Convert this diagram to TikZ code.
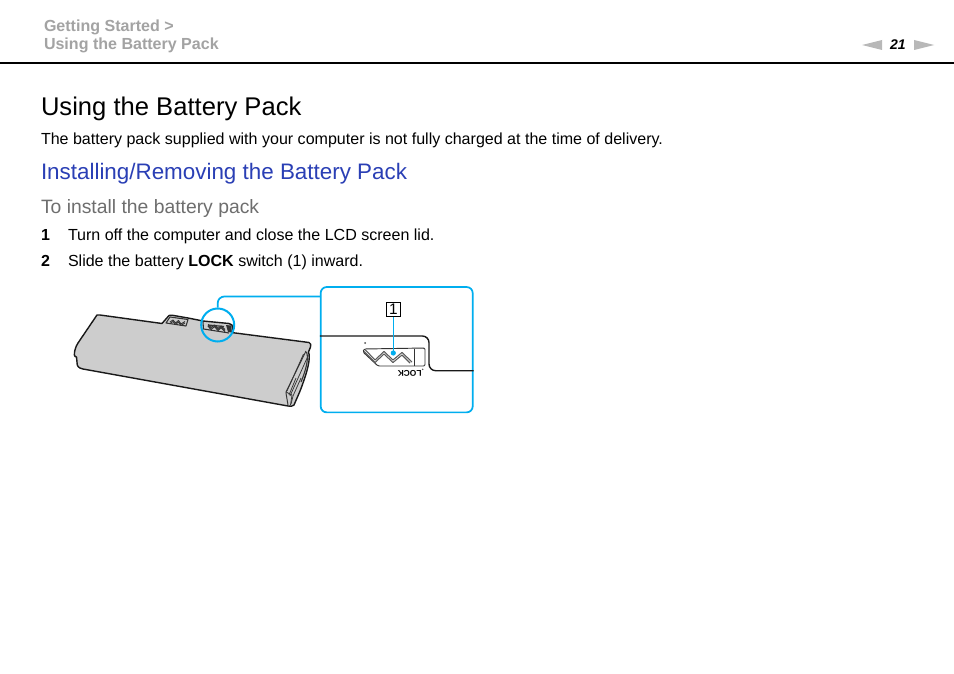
\documentclass[tikz,border=0pt]{standalone}
\usepackage{fontspec}
\setmainfont{Liberation Sans}
\definecolor{hgray}{HTML}{A3A3A3}
\definecolor{subgray}{HTML}{6E6E6E}
\definecolor{headblue}{HTML}{2A3FB5}
\definecolor{callout}{HTML}{00AEEF}
\definecolor{batgray}{HTML}{CDCDCD}
\newcommand{\fs}[1]{\fontsize{#1}{#1}\selectfont}
\tikzset{
  txt/.style={anchor=base west,inner sep=0pt,outer sep=0pt,text=black},
  hdr/.style={txt,text=hgray,font=\fs{12.03}\bfseries},
  body/.style={txt,font=\fs{12.03}},
  bat/.style={draw=black!90,line width=1.05pt,line join=round},
  thin/.style={draw=black!80,line width=0.55pt,line join=round},
  call/.style={draw=callout,line width=1.3pt},
  tri/.style={fill=black!28,draw=none}
}
\begin{document}
\begin{tikzpicture}[x=0.75pt,y=-0.75pt]
\useasboundingbox (0,0) rectangle (954,674);
\fill[white] (0,0) rectangle (954,674);
% header
\node[hdr] (h1) at (44,31.5) {Getting Started >};
\node[hdr] (h2) at (44,49.5) {Using the Battery Pack};
\fill[tri] (862,45) -- (882,40) -- (882,50) -- cycle;
\fill[tri] (934,45) -- (914,40) -- (914,50) -- cycle;
\node[txt,font=\fs{10.5}\bfseries\itshape] (pg) at (890,50) {21};
\draw[black,line width=1.5pt] (0,63) -- (954,63);
% text
\node[txt,font=\fs{19.2}] (title) at (41,115.5) {Using the Battery Pack};
\node[body] (intro) at (41,144) {The battery pack supplied with your computer is not fully charged at the time of delivery.};
\node[txt,text=headblue,font=\fs{16.8}] (sec) at (41,180) {Installing/Removing the Battery Pack};
\node[txt,text=subgray,font=\fs{14.5}] (sub) at (41,213) {To install the battery pack};
\node[body,font=\fs{12}\bfseries] (n1) at (41,240) {1};
\node[body] (s1) at (68,240) {Turn off the computer and close the LCD screen lid.};
\node[body,font=\fs{12}\bfseries] (n2) at (41,266) {2};
\node[body] (s2) at (68,266) {Slide the battery \textbf{LOCK} switch (1) inward.};
% battery
\filldraw[bat,fill=batgray]
 (97,315) .. controls (98,314.5) and (99,314.5) .. (100,315)
 -- (162,323.5) -- (169,315.5) .. controls (170,315) and (171,315) .. (172,315.2)
 -- (188,318) -- (203,321) -- (229,323.5) -- (232,325) -- (233,332.7) -- (309,342.5)
 .. controls (311,343) and (311,345) .. (310.5,347)
 -- (308.5,352) .. controls (311,358) and (307,372) .. (303,383)
 .. controls (300,392) and (296,400) .. (294,405)
 .. controls (293,406.5) and (290,406.5) .. (288,406)
 -- (83,369) .. controls (78,368) and (77,366) .. (77,362)
 -- (76.5,357) .. controls (74,357) and (74,354) .. (75,350)
 .. controls (76,346) and (77,345) .. (78,343)
 -- (97,315) -- cycle;
% notch tab 1
\draw[thin,line width=0.8pt] (166,323) -- (170,317) -- (188,319.5) -- (186,326) -- cycle;
\draw[thin,line width=0.7pt] (170,322) -- (173,320) -- (175.5,323) -- (178.5,320.5) -- (181,324) -- (185,321.5);
\draw[thin,line width=0.7pt] (170,323.5) -- (173,321.5) -- (175.5,324.5) -- (178.5,322) -- (181,325.5) -- (185,323);
% tab 2
\draw[thin,line width=0.8pt] (203,322) -- (203.5,329) -- (229,333);
\draw[thin,line width=0.9pt] (208,325) -- (224,326.5);
\draw[thin,line width=0.8pt] (208,326) -- (211,329.5) -- (214.5,326.5) -- (218,330.5) -- (221,327.5) -- (225,331.5);
\draw[thin,line width=0.8pt] (208,324.5) -- (211,327.5) -- (214.5,325) -- (218,328.5) -- (221,326) -- (225,329.5);
\fill[black!80] (226,325) -- (231,325.5) -- (232,332.5) -- (228,332) -- cycle;
% right end details
\draw[thin,line width=0.7pt] (306,351) -- (286,392) -- (286,393) -- (288,405);
\draw[thin] (303.5,354) -- (287,391);
\draw[thin] (308,356) -- (290,396);
\draw[thin] (301,378) -- (293,396) -- (291,404);
\draw[thin] (286,392) -- (292,395) -- (290.5,405);
\draw[thin] (296,378) -- (289,395);
\draw[thin,line width=0.8pt] (306.5,352) .. controls (309,358) and (306,370) .. (301,382);
% callout
\node[circle,call,line width=1.5pt,minimum size=33*0.75pt,inner sep=0pt,fill=none] (mag) at (217.7,325) {};
\coordinate (bend) at (217.7,296.5);
\node[call,line width=1.3pt,rounded corners=4.5pt,minimum width=114pt,minimum height=94pt,inner sep=0pt] (panel) at (396.7,349.7) {};
\draw[call,rounded corners=5pt] (mag.north) -- (bend) -- (panel.west |- bend);
% panel content
\draw[bat,rounded corners=5pt] (panel.west |- 0,336) -- (429,336) -- (429,370.7) -- (panel.east |- 0,370.7);
\draw[thin,line width=0.7pt,rounded corners=1pt] (364,349) -- (425,348) -- (425,366) -- (378,366) -- (363,352) -- cycle;
\draw[thin] (414,348.5) -- (414,366);
\draw[thin,line width=0.8pt,draw=black!65] (365,349.5) -- (375,360) -- (384,351.5) -- (393,360) -- (402,352.5) -- (412,362);
\draw[thin,line width=0.8pt,draw=black!65] (364,351.5) -- (375,362.5) -- (384,354) -- (393,362.5) -- (402,355) -- (410,363);
\fill[black!70] (365,343) circle (1);
\fill[black!70] (422.7,369.3) circle (0.8);
\node[inner sep=0pt,font=\fs{6.3}\bfseries,rotate=180,text=black] (lock) at (409.7,373) {LOCK};
\node[draw=black,line width=0.8pt,minimum width=14*0.75pt,minimum height=14*0.75pt,inner sep=0pt,font=\fs{11.5}] (one) at (393.3,309.7) {1};
\coordinate (dot) at (393.3,353);
\draw[callout,line width=1pt] (one.south) -- (dot);
\fill[callout] (dot) circle (2.6);
\end{tikzpicture}
\end{document}
